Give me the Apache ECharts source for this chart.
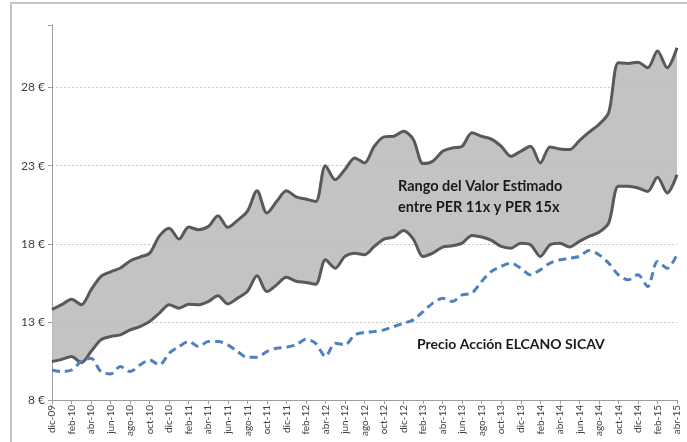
<!DOCTYPE html>
<html>
<head>
<meta charset="utf-8">
<script src="https://cdn.jsdelivr.net/npm/echarts@6/dist/echarts.min.js"></script>
<style>
  html, body { margin: 0; padding: 0; background: #fff; }
  #chart { width: 687px; height: 442px; }
</style>
</head>
<body>
<div id="chart"></div>
<script>
var months = [
  'dic-09',
  'ene-10','feb-10','mar-10','abr-10','may-10','jun-10','jul-10','ago-10','sep-10','oct-10','nov-10','dic-10',
  'ene-11','feb-11','mar-11','abr-11','may-11','jun-11','jul-11','ago-11','sep-11','oct-11','nov-11','dic-11',
  'ene-12','feb-12','mar-12','abr-12','may-12','jun-12','jul-12','ago-12','sep-12','oct-12','nov-12','dic-12',
  'ene-13','feb-13','mar-13','abr-13','may-13','jun-13','jul-13','ago-13','sep-13','oct-13','nov-13','dic-13',
  'ene-14','feb-14','mar-14','abr-14','may-14','jun-14','jul-14','ago-14','sep-14','oct-14','nov-14','dic-14',
  'ene-15','feb-15','mar-15','abr-15'
];

// valor estimado con PER 15x (limite superior)
var per15 = [
  13.8, 14.1, 14.45, 14.1, 15.05, 15.9, 16.2, 16.45, 16.9, 17.15, 17.4, 18.5, 19.0,
  18.3, 19.07, 18.9, 19.1, 19.8, 19.05, 19.5, 20.07, 21.4, 19.97, 20.7, 21.4,
  21.0, 20.86, 20.7, 23.0, 22.1, 22.75, 23.49, 23.17, 24.24, 24.84, 24.88, 25.2,
  24.67, 23.13, 23.28, 23.92, 24.13, 24.24, 25.1, 24.88, 24.7, 24.24, 23.6, 23.92,
  24.24, 23.17, 24.2, 24.07, 24.03, 24.6, 25.14, 25.63, 26.38, 29.58, 29.54, 29.62,
  29.26, 30.33, 29.26, 30.54
];

// valor estimado con PER 11x (limite inferior)
var per11 = [
  10.46, 10.6, 10.78, 10.39, 11.1, 11.85, 12.06, 12.17, 12.49, 12.7, 13.02, 13.56, 14.09,
  13.88, 14.13, 14.09, 14.3, 14.67, 14.15, 14.52, 14.94, 15.95, 14.94, 15.37, 15.86,
  15.6, 15.52, 15.41, 16.97, 16.44, 17.19, 17.4, 17.3, 17.83, 18.3, 18.43, 18.85,
  18.3, 17.19, 17.4, 17.79, 17.87, 18.04, 18.53, 18.43, 18.21, 17.83, 17.72, 18.04,
  17.94, 17.19, 17.94, 18.04, 17.79, 18.15, 18.47, 18.73, 19.32, 21.68, 21.68, 21.57,
  21.35, 22.25, 21.25, 22.42
];

// precio accion ELCANO SICAV
var precio = [
  9.92, 9.82, 9.92, 10.46, 10.67, 9.82, 9.67, 10.14, 9.82, 10.24, 10.56, 10.24, 10.99,
  11.42, 11.74, 11.42, 11.74, 11.74, 11.53, 11.1, 10.74, 10.74, 11.1, 11.31, 11.38,
  11.53, 11.89, 11.63, 10.78, 11.63, 11.53, 12.17, 12.32, 12.38, 12.49, 12.7, 12.91,
  13.13, 13.66, 14.2, 14.52, 14.3, 14.73, 14.84, 15.59, 16.23, 16.55, 16.76, 16.44,
  16.01, 16.33, 16.76, 16.97, 17.08, 17.19, 17.57, 17.3, 16.76, 16.01, 15.69, 16.01,
  15.26, 16.87, 16.44, 17.3
];

var bandWidth = per15.map(function (v, i) { return +(v - per11[i]).toFixed(2); });

var font = 'Lato, "Open Sans", sans-serif';

var chart = echarts.init(document.getElementById('chart'), null, { renderer: 'canvas' });

var option = {
  animation: false,
  textStyle: { fontFamily: font },
  grid: { left: 52, right: 10, top: 25, bottom: 42 },
  graphic: [
    {
      type: 'rect',
      shape: { x: 11, y: 3, width: 690, height: 460 },
      style: { fill: 'none', stroke: '#c4c4c4', lineWidth: 2 },
      silent: true
    },
    {
      type: 'text', left: 398, top: 176, z: 100,
      style: {
        text: 'Rango del Valor Estimado\nentre PER 11x y PER 15x',
        font: 'bold 14.5px ' + font, fill: '#1a1a1a', lineHeight: 21
      }
    },
    {
      type: 'text', left: 417, top: 337, z: 100,
      style: { text: 'Precio Acción ELCANO SICAV', font: 'bold 14px ' + font, fill: '#1a1a1a' }
    }
  ],
  xAxis: {
    type: 'category',
    data: months,
    boundaryGap: false,
    axisLine: { lineStyle: { color: '#9e9e9e', width: 1 } },
    axisTick: { interval: 1, length: 4, lineStyle: { color: '#9e9e9e' } },
    axisLabel: {
      interval: 1, rotate: 90, fontSize: 10, color: '#404040', margin: 5, fontFamily: font
    }
  },
  yAxis: {
    type: 'value',
    min: 8,
    max: 32,
    interval: 5,
    axisLine: { show: true, lineStyle: { color: '#9e9e9e', width: 1 } },
    axisTick: { show: true, length: 4, lineStyle: { color: '#9e9e9e' } },
    axisLabel: {
      fontSize: 12, color: '#404040', margin: 7, fontFamily: font,
      formatter: function (v) { return v === 32 ? '' : v + ' €'; }
    },
    splitLine: {
      show: true,
      lineStyle: {
        color: ['rgba(0,0,0,0)', '#c8c8c8', '#c8c8c8', '#c8c8c8', '#c8c8c8', 'rgba(0,0,0,0)'],
        type: [2, 2], width: 1
      }
    }
  },
  series: [
    {
      name: 'PER 11x',
      type: 'line',
      stack: 'rango',
      data: per11,
      smooth: 0.3,
      symbol: 'none',
      lineStyle: { color: '#595959', width: 3 },
      z: 3
    },
    {
      name: 'PER 15x',
      type: 'line',
      stack: 'rango',
      data: bandWidth,
      smooth: 0.3,
      symbol: 'none',
      lineStyle: { color: '#595959', width: 3 },
      areaStyle: { color: '#bdbdbd', opacity: 0.9 },
      z: 3
    },
    {
      name: 'Precio Acción ELCANO SICAV',
      type: 'line',
      data: precio,
      smooth: 0.3,
      symbol: 'none',
      lineStyle: { color: '#4f81bd', width: 3, type: [8, 5] },
      z: 4
    }
  ]
};

chart.setOption(option);
window.addEventListener('resize', function () { chart.resize(); });
</script>
</body>
</html>
